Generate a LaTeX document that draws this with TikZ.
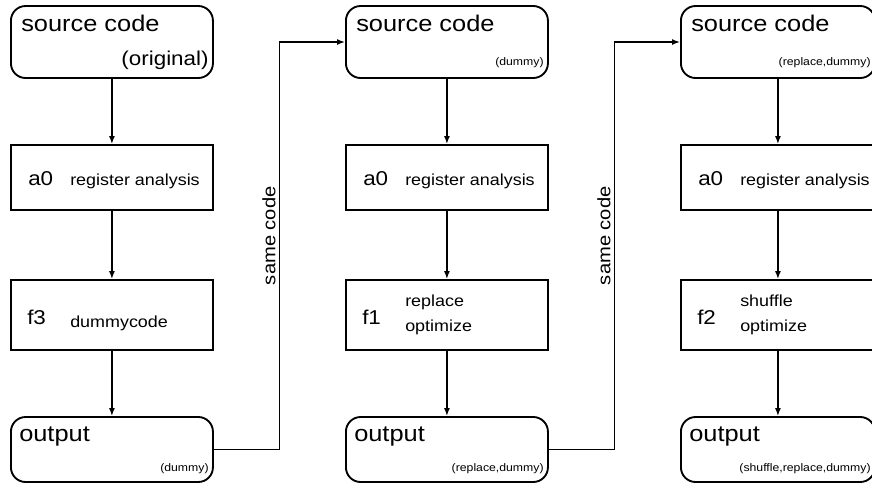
\documentclass[tikz,border=0pt]{standalone}
\usepackage{fontspec}
\setmainfont{Liberation Sans}[FakeStretch=1.12]
\usetikzlibrary{calc,arrows.meta}

\tikzset{
  stage/.style={draw,line width=1.4pt,inner sep=0pt,anchor=west},
  roundstage/.style={stage,rounded corners=11pt},
  big/.style={font=\fontsize{17}{20}\selectfont,inner sep=0pt},
  mid/.style={font=\fontsize{15}{18}\selectfont,inner sep=0pt},
  small/.style={font=\fontsize{12}{18.5}\selectfont,inner sep=0pt,align=left},
  note/.style={font=\fontsize{8.2}{10}\selectfont,inner sep=0pt},
  link/.style={line width=1.1pt,-{Latex[length=6pt,width=4.5pt]}}
}

\begin{document}
\begin{tikzpicture}[x=0.75pt,y=-0.75pt]
  \useasboundingbox (0,0) rectangle (872,487);

  % one column per pass
  \foreach \c/\x/\w/\srcfont/\srcnote/\fname/\fnote/\fy/\outnote in {
      1/10/202/mid/{(original)}/f3/{dummycode}/8/{(dummy)},
      2/345/202/note/{(dummy)}/f1/{replace\\optimize}/0/{(replace,dummy)},
      3/680/194/note/{(replace,dummy)}/f2/{shuffle\\optimize}/0/{(shuffle,replace,dummy)}} {
    \node[roundstage,minimum width=\w*0.75pt,minimum height=54pt] (src\c) at (\x,42) {};
    \node[stage,minimum width=\w*0.75pt,minimum height=48.75pt] (reg\c) at (\x,177.5) {};
    \node[stage,minimum width=\w*0.75pt,minimum height=52.5pt] (fn\c) at (\x,315) {};
    \node[roundstage,minimum width=\w*0.75pt,minimum height=48.75pt] (out\c) at (\x,449.5) {};

    \node[big,anchor=base west] (src\c-a) at ([shift={(11,26)}]src\c.north west) {source code};
    \node[\srcfont,anchor=base east] (src\c-b) at ([shift={(-5,-13)}]src\c.south east) {\srcnote};
    \node[mid,anchor=base west] (reg\c-a) at ([shift={(18,7.5)}]reg\c.west) {a0};
    \node[small,anchor=base west] (reg\c-b) at ([shift={(60,7.5)}]reg\c.west) {register analysis};
    \node[mid,anchor=base west] (fn\c-a) at ([shift={(17,9)}]fn\c.west) {\fname};
    \node[small,anchor=west] (fn\c-b) at ([shift={(60,\fy)}]fn\c.west) {\fnote};
    \node[big,anchor=base west] (out\c-a) at ([shift={(9,25)}]out\c.north west) {output};
    \node[note,anchor=base east] (out\c-b) at ([shift={(-5,-11)}]out\c.south east) {\outnote};

    \draw[link] (src\c) -- (reg\c);
    \draw[link] (reg\c) -- (fn\c);
    \draw[link] (fn\c) -- (out\c);
  }

  % hand over to next column
  \foreach \a/\b in {1/2,2/3} {
    \coordinate (mid\a) at ($(out\a.east)!.5!(src\b.west)$);
    \draw[link] (out\a.east) -| (mid\a) |- (src\b.west);
    \node[mid,font=\fontsize{13.5}{16}\selectfont,rotate=90,anchor=south] (same\a) at ([shift={(-3.5,-10)}]mid\a) {same code};
  }
\end{tikzpicture}
\end{document}
